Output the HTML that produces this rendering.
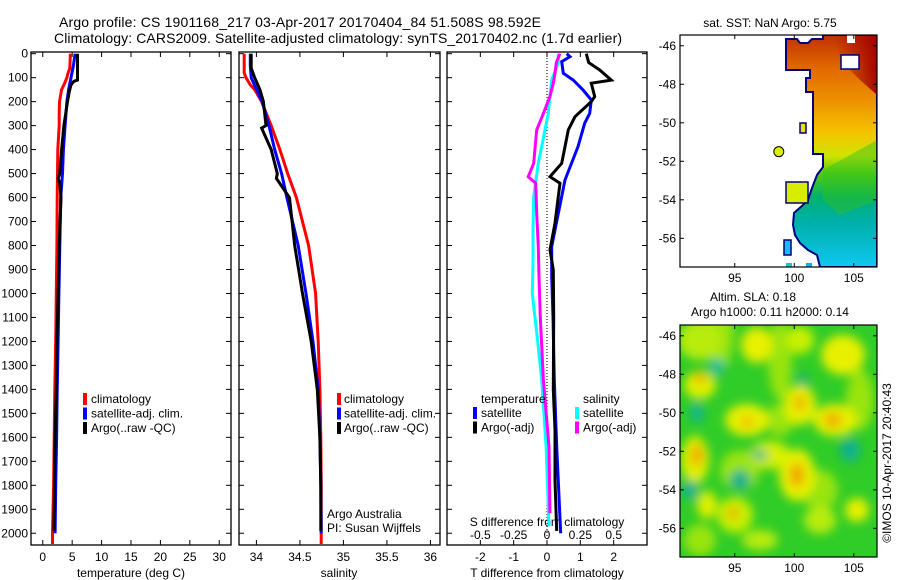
<!DOCTYPE html>
<html><head><meta charset="utf-8"><style>
html,body{margin:0;padding:0;background:#fff;}
svg{display:block;font-family:"Liberation Sans",Arial,sans-serif;}
</style></head><body>
<svg id="fig" width="900" height="580" viewBox="0 0 900 580" xmlns="http://www.w3.org/2000/svg">
<defs>
<linearGradient id="sstGrad" gradientUnits="userSpaceOnUse" x1="0" y1="35" x2="0" y2="267">
<stop offset="0" stop-color="#c03000"/><stop offset="0.14" stop-color="#e06800"/>
<stop offset="0.28" stop-color="#ec9000"/><stop offset="0.42" stop-color="#f4c400"/>
<stop offset="0.52" stop-color="#d0e400"/><stop offset="0.6" stop-color="#50cc10"/>
<stop offset="0.7" stop-color="#00b070"/><stop offset="0.82" stop-color="#00b0b0"/>
<stop offset="1" stop-color="#10c8f0"/></linearGradient>
<linearGradient id="redTR" x1="0" y1="0" x2="1" y2="0">
<stop offset="0" stop-color="#a00000" stop-opacity="0"/><stop offset="1" stop-color="#a00000" stop-opacity="0.95"/></linearGradient>
<filter id="blur" x="-20%" y="-20%" width="140%" height="140%"><feGaussianBlur stdDeviation="5"/></filter>
<clipPath id="clipMap1"><rect x="680" y="35" width="197" height="232"/></clipPath>
<clipPath id="clipMap2"><rect x="680" y="325" width="197" height="232"/></clipPath>
<clipPath id="clipP1"><rect x="31" y="52" width="200" height="493"/></clipPath>
<clipPath id="clipP2"><rect x="239" y="52" width="201" height="493"/></clipPath>
<clipPath id="clipP3"><rect x="447" y="52" width="200" height="493"/></clipPath>
</defs>
<text x="59" y="27" font-size="14" textLength="482">Argo profile: CS 1901168_217 03-Apr-2017 20170404_84 51.508S 98.592E</text>
<text x="54" y="43" font-size="14" textLength="568">Climatology: CARS2009. Satellite-adjusted climatology: synTS_20170402.nc (1.7d earlier)</text>
</svg>
<script>
// ---------- data ----------
const climTD = [0,60,80,100,130,150,200,250,300,400,500,600,800,1000,1200,1400,1600,1800,1950,2000,2045];
const climT  = [4.7,4.6,4.3,4.1,3.6,3.2,2.85,2.8,2.8,2.55,2.5,2.45,2.4,2.3,2.2,2.05,1.95,1.85,1.7,1.65,1.65];
const satTD  = [0,50,100,150,200,300,400,500,600,800,1000,1200,1400,1600,1800,2000];
const satT   = [5.5,5.2,4.8,4.4,4.1,3.8,3.5,3.35,3.05,2.9,2.75,2.6,2.45,2.35,2.2,2.1];
const argoTD = [0,110,115,130,160,200,250,300,400,500,520,540,600,800,1000,1200,1400,1600,1800,1990];
const argoT  = [5.9,5.9,5.3,4.8,4.5,4.2,3.9,3.6,3.2,2.9,2.6,2.9,3.1,2.8,2.6,2.4,2.3,2.1,2.0,1.9];

const climSD = [0,80,100,130,150,200,300,400,500,600,800,1000,1200,1400,1600,1800,2000,2045];
const climS  = [33.86,33.86,33.88,33.93,33.98,34.06,34.17,34.27,34.36,34.46,34.6,34.68,34.71,34.73,34.74,34.745,34.745,34.745];
const satSD  = [0,50,100,200,300,400,500,600,800,1000,1200,1400,1600,1800,2000];
const satS   = [33.93,33.93,33.94,34.065,34.145,34.21,34.29,34.35,34.48,34.57,34.65,34.71,34.73,34.74,34.745];
const argoSD = [0,60,100,150,200,300,310,400,500,520,600,800,1000,1200,1400,1600,1800,1990];
const argoS  = [33.94,33.94,33.98,34.04,34.08,34.11,34.06,34.17,34.24,34.23,34.38,34.44,34.53,34.63,34.70,34.73,34.74,34.74];

const dTsatD  = [0,12,33,82,110,151,193,249,290,388,527,666,805,930,1100,1361,1639,2000];
const dTsat   = [0.59,0.69,0.44,0.49,0.79,1.08,1.33,1.28,1.13,0.93,0.54,0.34,0.14,0.14,0.18,0.22,0.29,0.41];
const dTargoD = [0,37,68,110,123,179,200,263,318,388,457,513,540,596,707,818,902,1100,1403,1570,1778,1990];
const dTargo  = [1.18,1.25,1.58,1.93,1.33,1.43,1.33,0.84,0.64,0.54,0.44,0.09,0.39,0.34,0.24,0.09,0.19,0.2,0.19,0.24,0.24,0.29];
const dSsatD  = [0,37,110,179,249,318,457,596,735,874,1000,1200,1361,1639,1972];
const dSsat   = [0.085,0.085,0.035,0.022,0.01,-0.015,-0.065,-0.10,-0.105,-0.105,-0.11,-0.07,-0.04,-0.007,0.015];
const dSargoD = [0,37,82,123,179,249,318,457,513,540,666,805,930,1100,1361,1639,1917];
const dSargo  = [0.097,0.07,0.06,0.047,0.022,-0.027,-0.077,-0.10,-0.14,-0.085,-0.077,-0.065,-0.06,-0.05,-0.027,0.015,0.022];

const depthTicks = [0,100,200,300,400,500,600,700,800,900,1000,1100,1200,1300,1400,1500,1600,1700,1800,1900,2000];
const tempTicks = [0,5,10,15,20,25,30];
const salTicks = [34,34.5,35,35.5,36];
const salTickLabels = ["34","34.5","35","35.5","36"];
const tdiffTicks = [-2,-1,0,1,2];
const sdiffTicks = [-0.5,-0.25,0,0.25,0.5];
const sdiffTickLabels = ["-0.5","-0.25","0","0.25","0.5"];
const lonTicks = [95,100,105];
const latTicks = [-46,-48,-50,-52,-54,-56];
const argoLon = 98.7, argoLat = -51.5;

// ---------- helpers ----------
const NS = "http://www.w3.org/2000/svg";
const svg = document.getElementById('fig');
function mk(tag, attrs, parent){ const e=document.createElementNS(NS,tag); for(const k in attrs) e.setAttribute(k,attrs[k]); (parent||svg).appendChild(e); return e; }
function txt(s,x,y,size,anchor,parent){ const t=mk('text',{x:x,y:y,'font-size':size,'text-anchor':anchor||'start'},parent); t.textContent=s; return t; }

const yTop=52, yBot=545;
const dMin=-7, dMax=2049;
function yD(d){ return yTop+(d-dMin)/(dMax-dMin)*(yBot-yTop); }
function xTemp(v){ return 31+(v+2)/(34)*200; }
function xSal(v){ return 239+(v-33.8)/(2.31)*201; }
function xTd(v){ return 447+(v+3)/6*200; }
function xSd(v){ return 447+(v+0.75)/1.5*200; }

function drawLine(xs, ds, fx, color, clip, name){
  const pts = xs.map((v,i)=>fx(v).toFixed(1)+','+yD(ds[i]).toFixed(1)).join(' ');
  const p = mk('polyline',{points:pts,fill:'none',stroke:color,'stroke-width':3,'clip-path':'url(#'+clip+')'});
  
  
  return p;
}
function frame(x0,x1,name){
  const r = mk('rect',{x:x0,y:yTop,width:x1-x0,height:yBot-yTop,fill:'none',stroke:'#000','stroke-width':1.3});
  
  
  depthTicks.forEach(d=>{
    const y=yD(d);
    mk('line',{x1:x0,y1:y,x2:x0+5,y2:y,stroke:'#000'});
    mk('line',{x1:x1-5,y1:y,x2:x1,y2:y,stroke:'#000'});
  });
}
function xticks(vals, fx){
  vals.forEach(v=>{ const x=fx(v);
    mk('line',{x1:x,y1:yTop,x2:x,y2:yTop+5,stroke:'#000'});
    mk('line',{x1:x,y1:yBot-5,x2:x,y2:yBot,stroke:'#000'}); });
}
function legendMark(x,y,color){ mk('rect',{x:x,y:y-6,width:4,height:12,fill:color}); }

// ---------- panel 1 ----------
frame(31,231,'temperature-axes');
xticks(tempTicks,xTemp);
depthTicks.forEach(d=>{ const t=txt(String(d),28,yD(d)+4,12,'end');
  
   });
tempTicks.forEach(v=>{ const t=txt(String(v),xTemp(v),561,12,'middle');
  
   });
let at = txt('temperature (deg C)',131,577,12,'middle');


drawLine(climT,climTD,xTemp,'#ff0000','clipP1','temperature-climatology-line');
drawLine(satT,satTD,xTemp,'#0000ff','clipP1','temperature-satellite-line');
drawLine(argoT,argoTD,xTemp,'#000000','clipP1','temperature-argo-line');
[['climatology','#ff0000'],['satellite-adj. clim.','#0000ff'],['Argo(..raw -QC)','#000']].forEach((e,i)=>{
  const y=399+i*14.5; legendMark(83,y,e[1]); const t=txt(e[0],91,y+4,12);
  
  
});

// ---------- panel 2 ----------
frame(239,440,'salinity-axes');
xticks(salTicks,xSal);
salTicks.forEach((v,i)=>{ const t=txt(salTickLabels[i],xSal(v),561,12,'middle');
  
   });
at = txt('salinity',339,577,12,'middle');


drawLine(climS,climSD,xSal,'#ff0000','clipP2','salinity-climatology-line');
drawLine(satS,satSD,xSal,'#0000ff','clipP2','salinity-satellite-line');
drawLine(argoS,argoSD,xSal,'#000000','clipP2','salinity-argo-line');
[['climatology','#ff0000'],['satellite-adj. clim.','#0000ff'],['Argo(..raw -QC)','#000']].forEach((e,i)=>{
  const y=399+i*14.5; legendMark(337,y,e[1]); const t=txt(e[0],344,y+4,12);
  
  
});
let cr = txt('Argo Australia',327,518,12);


cr = txt('PI: Susan Wijffels',327,532,12);



// ---------- panel 3 ----------
frame(447,647,'difference-axes');
xticks(tdiffTicks,xTd);
mk('line',{x1:xTd(0),y1:yTop,x2:xTd(0),y2:yBot,stroke:'#000','stroke-dasharray':'1,2'});
tdiffTicks.forEach(v=>{ const t=txt(String(v),xTd(v),561,12,'middle');
  
   });
sdiffTicks.forEach((v,i)=>{ const t=txt(sdiffTickLabels[i],xSd(v),539,12,'middle');
  
   });
at = txt('S difference from climatology',547,526,12,'middle');


at = txt('T difference from climatology',547,577,12,'middle');


drawLine(dSsat,dSsatD,xSd,'#00ffff','clipP3','salinity-satellite-diff-line');
drawLine(dSargo,dSargoD,xSd,'#ff00ff','clipP3','salinity-argo-diff-line');
drawLine(dTsat,dTsatD,xTd,'#0000ff','clipP3','temperature-satellite-diff-line');
drawLine(dTargo,dTargoD,xTd,'#000000','clipP3','temperature-argo-diff-line');
at = txt('temperature',481,403,12);


at = txt('salinity',583,403,12);


[['satellite','#0000ff',473,481],['Argo(-adj)','#000',473,481],['satellite','#00ffff',575,583],['Argo(-adj)','#ff00ff',575,583]].forEach((e,i)=>{
  const y=413+(i%2)*14.5; legendMark(e[2],y,e[1]); const t=txt(e[0],e[3],y+4,12);
  
  
});

// ---------- maps ----------
function lonX(v){ return 680+(v-90.4)/(106.95-90.4)*197; }
function latY(v,top){ return top+(-45.44-v)/(12.05)*232; }
function mapAxes(top,name){
  const r=mk('rect',{x:680,y:top,width:197,height:232,fill:'none',stroke:'#000','stroke-width':1.2});
  
  
  lonTicks.forEach(v=>{ const x=lonX(v);
    mk('line',{x1:x,y1:top,x2:x,y2:top+4,stroke:'#000'});
    mk('line',{x1:x,y1:top+228,x2:x,y2:top+232,stroke:'#000'});
    const t=txt(String(v),x,top+247,12,'middle');
    
     });
  latTicks.forEach(v=>{ const y=latY(v,top);
    mk('line',{x1:680,y1:y,x2:684,y2:y,stroke:'#000'});
    mk('line',{x1:873,y1:y,x2:877,y2:y,stroke:'#000'});
    const t=txt(String(v),676,y+4,12,'end');
    
     });
}
// SST map
const sst = mk('g',{'clip-path':'url(#clipMap1)'});


const poly = "786,39 797,39 800,43 808,43 812,39 823,39 823,35 877,35 877,267 820,267 817,255 808,250 800,243 795,235 793,225 794,213 803,205 808,200 812,188 817,175 823,167 823,154 813,154 813,92 806,92 806,78 810,78 810,70 786,70";
mk('polygon',{points:poly,fill:'url(#sstGrad)',stroke:'#000080','stroke-width':2},sst);
mk('polygon',{points:"835,35 877,35 877,95 860,80 840,60",fill:'url(#redTR)'},sst);
mk('polygon',{points:"823,170 877,140 877,200 840,215 823,200",fill:'#30c020',opacity:0.45},sst);
mk('rect',{x:786,y:182,width:22,height:21,fill:'#d8ec00',stroke:'#000080','stroke-width':1.5},sst);
mk('rect',{x:800,y:123,width:6,height:10,fill:'#e8e000',stroke:'#000080','stroke-width':1.5},sst);
mk('rect',{x:841,y:55,width:18,height:14,fill:'#fff',stroke:'#000080','stroke-width':1.5},sst);
mk('rect',{x:847,y:35,width:8,height:8,fill:'#fff'},sst);
mk('rect',{x:784,y:240,width:7,height:15,fill:'#10c0f0',stroke:'#000080','stroke-width':1.5},sst);
mk('rect',{x:786,y:263,width:6,height:4,fill:'#00d0d0'},sst);
mk('rect',{x:806,y:263,width:6,height:4,fill:'#10b0f0'},sst);
const dot = mk('circle',{cx:lonX(argoLon),cy:latY(argoLat,35),r:5,fill:'#d8f000',stroke:'#000','stroke-width':1});


mapAxes(35,'sst-map-axes');
let mt = txt('sat. SST: NaN Argo: 5.75',770,27,12,'middle');



// SLA map
const sla = mk('g',{'clip-path':'url(#clipMap2)'});


mk('rect',{x:680,y:325,width:197,height:232,fill:'#30cc28'},sla);
const bl = mk('g',{filter:'url(#blur)'},sla);
const blobs = [
 ['#98e410',720,330,14,40],['#98e410',780,360,12,40],['#98e410',860,400,14,30],['#98e410',740,470,20,20],
 ['#98e410',820,490,18,20],['#98e410',700,540,16,16],['#98e410',780,420,14,16],
 ['#b8ec10',700,340,22,20],['#e8f000',757,345,16,18],['#e8f000',843,355,22,20],['#c8f000',800,340,14,14],
 ['#e0f000',700,385,16,14],['#e8f000',747,420,22,16],['#e8f000',800,405,16,20],['#e8f000',835,420,22,16],
 ['#e0f000',695,460,14,24],['#e8f000',797,475,18,26],['#d8f000',770,455,20,14],['#c8f000',735,515,18,18],
 ['#e8f000',857,510,12,12],['#e0f000',707,505,10,14],['#b8ec10',820,520,16,14],['#b8ec10',760,540,18,10],
 ['#f0a800',697,455,6,11],['#f0a000',797,475,7,12],['#f0a800',833,420,9,7],['#f0b000',747,422,6,5],
 ['#f0b000',800,403,6,8],['#f0b000',733,513,6,6],['#f0b000',700,378,6,6],
 ['#10b8a8',717,367,7,8],['#10b0a0',697,413,6,10],['#10a890',803,380,5,6],['#10b090',760,455,8,5],
 ['#10b090',850,450,10,12],['#10b090',740,480,10,10],['#10b090',690,490,8,10]
];
blobs.forEach(b=>{ mk('ellipse',{fill:b[0],cx:b[1],cy:b[2],rx:b[3],ry:b[4]},bl); });
mapAxes(325,'sla-map-axes');
mt = txt('Altim. SLA: 0.18',753,301,12,'middle');


mt = txt('Argo h1000: 0.11 h2000: 0.14',770,316,12,'middle');


mt = txt('©IMOS 10-Apr-2017 20:40:43',0,0,12,'middle');
mt.setAttribute('transform','translate(891,463) rotate(-90)');


</script>
</body></html>
